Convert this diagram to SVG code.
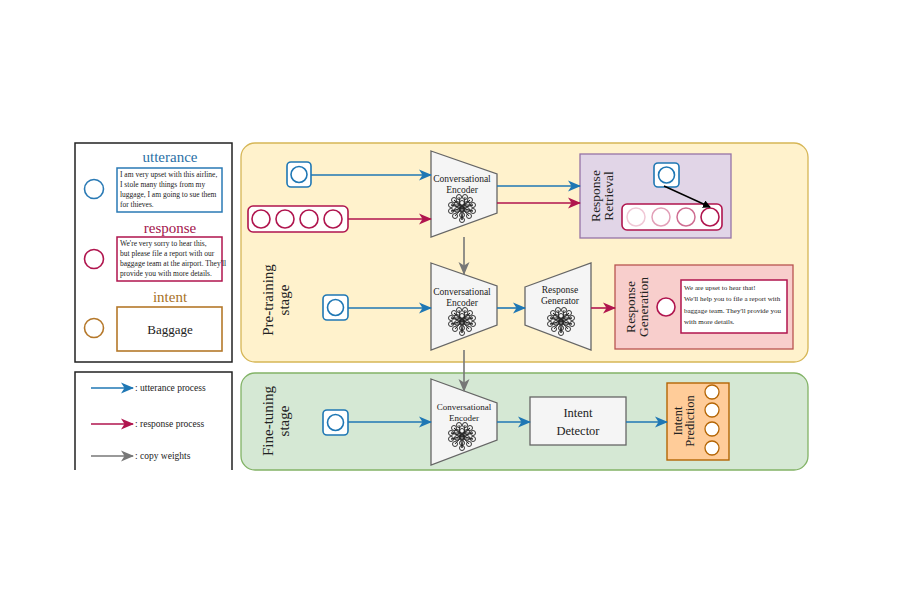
<svg xmlns="http://www.w3.org/2000/svg" xmlns:xlink="http://www.w3.org/1999/xlink" width="900" height="600" viewBox="0 0 900 600">
<style>
text{font-family:"Liberation Serif","Times New Roman",serif;fill:#222}
.b{stroke:#1f77b4;fill:none;stroke-width:1.6}
.r{stroke:#b0154e;fill:none;stroke-width:1.6}
.g{stroke:#777;fill:none;stroke-width:1.6}
.enc{fill:#f5f5f5;stroke:#666;stroke-width:1.3}
</style>
<defs>
<marker id="ab" markerWidth="13" markerHeight="12" refX="12" refY="6" orient="auto" markerUnits="userSpaceOnUse"><path d="M0,0.5 L13,6 L0,11.5 L3.5,6z" fill="#1f77b4"/></marker>
<marker id="ar" markerWidth="13" markerHeight="12" refX="12" refY="6" orient="auto" markerUnits="userSpaceOnUse"><path d="M0,0.5 L13,6 L0,11.5 L3.5,6z" fill="#b0154e"/></marker>
<marker id="ag" markerWidth="13" markerHeight="12" refX="12" refY="6" orient="auto" markerUnits="userSpaceOnUse"><path d="M0,0.5 L13,6 L0,11.5 L3.5,6z" fill="#777"/></marker>
<marker id="ak" markerWidth="8" markerHeight="8" refX="7" refY="4" orient="auto" markerUnits="userSpaceOnUse"><path d="M0,0 L8,4 L0,8z" fill="#000"/></marker>
<g id="nn">
<g fill="none" stroke="#222" stroke-width="0.9">
<circle cx="-8" cy="-6" r="2.5"/><circle cx="-3" cy="-9" r="2.5"/><circle cx="3" cy="-9" r="2.5"/><circle cx="8" cy="-6" r="2.5"/>
<circle cx="-11" cy="-1" r="2.5"/><circle cx="-5" cy="-2" r="2.5"/><circle cx="0" cy="-3" r="2.5"/><circle cx="5" cy="-2" r="2.5"/><circle cx="11" cy="-1" r="2.5"/>
<circle cx="-11" cy="5" r="2.5"/><circle cx="-5" cy="4" r="2.5"/><circle cx="0" cy="3" r="2.5"/><circle cx="5" cy="4" r="2.5"/><circle cx="11" cy="5" r="2.5"/>
<circle cx="-7" cy="10" r="2.5"/><circle cx="0" cy="9" r="2.5"/><circle cx="7" cy="10" r="2.5"/><circle cx="0" cy="14" r="2.5"/>
<path d="M-8,-6L5,4M8,-6L-5,4M-11,-1L11,5M11,-1L-11,5M-3,-9L0,14M3,-9L0,14M-7,10L8,-6M7,10L-8,-6M-11,-1H11M-11,5H11"/>
</g>
</g>
</defs>

<g id="legend">
<rect x="75" y="143" width="157" height="219" fill="#fff" stroke="#222" stroke-width="1.5"/>
<text x="170" y="162" font-size="15" style="fill:#2a6fa5" text-anchor="middle">utterance</text>
<circle cx="94" cy="189" r="9.5" class="b" style="stroke:#2a7ab5"/>
<rect x="117" y="168" width="105" height="44" fill="#fff" stroke="#2a7ab5" stroke-width="1.5"/>
<text font-size="7.5"><tspan x="120" y="177">I am very upset with this airline,</tspan><tspan x="120" y="187">I stole many things from my</tspan><tspan x="120" y="197">luggage, I am going to sue them</tspan><tspan x="120" y="207">for thieves.</tspan></text>
<text x="170" y="233" font-size="15" style="fill:#a3154c" text-anchor="middle">response</text>
<circle cx="94" cy="259" r="9.5" class="r"/>
<rect x="117" y="237" width="105" height="44" fill="#fff" stroke="#b0154e" stroke-width="1.5"/>
<text font-size="7.5"><tspan x="120" y="246">We're very sorry to hear this,</tspan><tspan x="120" y="256">but please file a report with our</tspan><tspan x="120" y="266">baggage team at the airport. They'll</tspan><tspan x="120" y="276">provide you with more details.</tspan></text>
<text x="170" y="302" font-size="15" style="fill:#a8711f" text-anchor="middle">intent</text>
<circle cx="94" cy="328" r="9.5" fill="none" stroke="#b5782a" stroke-width="1.6"/>
<rect x="117" y="307" width="105" height="44" fill="#fff" stroke="#b5782a" stroke-width="1.6"/>
<text x="170" y="334" font-size="13" text-anchor="middle">Baggage</text>
</g>

<g id="legend2">
<path d="M75,470 V372 H232 V470" fill="#fff" stroke="#222" stroke-width="1.5"/>
<line x1="91" y1="388" x2="133" y2="388" class="b" marker-end="url(#ab)"/>
<text x="135" y="391" font-size="9.5">: utterance process</text>
<line x1="91" y1="424" x2="133" y2="424" class="r" marker-end="url(#ar)"/>
<text x="135" y="427" font-size="9.5">: response process</text>
<line x1="91" y1="456" x2="133" y2="456" class="g" marker-end="url(#ag)"/>
<text x="135" y="459" font-size="9.5">: copy weights</text>
</g>

<g id="pretrain">
<rect x="241" y="143" width="567" height="219" rx="14" fill="#fff2cc" stroke="#d6b656" stroke-width="1.3"/>
<text transform="translate(273,300) rotate(-90)" font-size="15" text-anchor="middle"><tspan x="0" y="0">Pre-training</tspan><tspan x="0" y="16">stage</tspan></text>
</g>
<g id="finetune">
<rect x="241" y="373" width="567" height="97" rx="14" fill="#d5e8d4" stroke="#82b366" stroke-width="1.3"/>
<text transform="translate(273,421) rotate(-90)" font-size="15" text-anchor="middle"><tspan x="0" y="0">Fine-tuning</tspan><tspan x="0" y="16">stage</tspan></text>
</g>

<g id="inputs">
<rect x="287" y="162" width="24" height="25" rx="4" class="b" style="fill:#fff"/>
<circle cx="299" cy="174.5" r="8" class="b"/>
<rect x="248" y="206" width="100" height="26" rx="5" class="r" style="fill:#fff"/>
<circle cx="261" cy="219" r="9" class="r"/><circle cx="285" cy="219" r="9" class="r"/><circle cx="309" cy="219" r="9" class="r"/><circle cx="333" cy="219" r="9" class="r"/>
<rect x="323" y="295" width="25" height="25" rx="4" class="b" style="fill:#fff"/>
<circle cx="335.5" cy="307.5" r="8" class="b"/>
<rect x="323" y="410" width="25" height="25" rx="4" class="b" style="fill:#fff"/>
<circle cx="335.5" cy="422.5" r="8" class="b"/>
</g>

<g id="enc1">
<path d="M431,151 L497,174 L497,213 L431,237z" class="enc"/>
<text x="462" y="182" font-size="9.5" text-anchor="middle">Conversational</text>
<text x="462" y="193" font-size="9.5" text-anchor="middle">Encoder</text>
<use xlink:href="#nn" x="462" y="206"/>
</g>
<g id="enc2">
<path d="M431,263 L497,286 L497,325 L431,350z" class="enc"/>
<text x="462" y="295" font-size="9.5" text-anchor="middle">Conversational</text>
<text x="462" y="306" font-size="9.5" text-anchor="middle">Encoder</text>
<use xlink:href="#nn" x="462" y="319"/>
</g>
<g id="enc3">
<path d="M431,379 L497,403 L497,440 L431,465z" class="enc"/>
<text x="464" y="410" font-size="9" text-anchor="middle">Conversational</text>
<text x="464" y="421" font-size="9" text-anchor="middle">Encoder</text>
<use xlink:href="#nn" x="462" y="434"/>
</g>
<g id="generator">
<path d="M525,287 L591,263 L591,350 L525,325z" class="enc"/>
<text x="560" y="293" font-size="9.5" text-anchor="middle">Response</text>
<text x="560" y="304" font-size="9.5" text-anchor="middle">Generator</text>
<use xlink:href="#nn" x="561" y="319"/>
</g>

<g id="retrieval">
<rect x="580" y="154" width="151" height="84" fill="#e1d5e7" stroke="#9673a6" stroke-width="1.3"/>
<text transform="translate(600,196) rotate(-90)" font-size="13.5" text-anchor="middle"><tspan x="0" y="0">Response</tspan><tspan x="0" y="13">Retrieval</tspan></text>
<rect x="654" y="163" width="25" height="24" rx="4" class="b" style="fill:#fff"/>
<circle cx="666.5" cy="175" r="8" class="b"/>
<rect x="622" y="204" width="100" height="26" rx="5" class="r" style="fill:#fff"/>
<circle cx="636" cy="217" r="9" fill="#fff" stroke="#f0c8d6" stroke-width="1.5"/>
<circle cx="661" cy="217" r="9" fill="#fff" stroke="#e2a0b8" stroke-width="1.5"/>
<circle cx="686" cy="217" r="9" fill="#fff" stroke="#cf6e92" stroke-width="1.5"/>
<circle cx="710" cy="217" r="9" fill="#fff" stroke="#b0154e" stroke-width="1.6"/>
</g>

<g id="generation">
<rect x="615" y="265" width="178" height="84" fill="#f8cecc" stroke="#b85450" stroke-width="1.3"/>
<text transform="translate(635,307) rotate(-90)" font-size="13.5" text-anchor="middle"><tspan x="0" y="0">Response</tspan><tspan x="0" y="13">Generation</tspan></text>
<circle cx="666" cy="307" r="9" fill="#fff" stroke="#b0154e" stroke-width="1.6"/>
<rect x="681" y="280" width="106" height="53" fill="#fff" stroke="#b0154e" stroke-width="1.5"/>
<text font-size="7"><tspan x="684" y="290">We are upset to hear that!</tspan><tspan x="684" y="301">We'll help you to file a report with</tspan><tspan x="684" y="313">baggage team. They'll provide you</tspan><tspan x="684" y="324">with more details.</tspan></text>
</g>

<g id="detector">
<rect x="530" y="397" width="96" height="48" fill="#f5f5f5" stroke="#666" stroke-width="1.3"/>
<text x="578" y="417" font-size="12.5" text-anchor="middle">Intent</text>
<text x="578" y="435" font-size="12.5" text-anchor="middle">Detector</text>
</g>

<g id="prediction">
<rect x="667" y="383" width="62" height="77" fill="#ffcc99" stroke="#b46504" stroke-width="1.4"/>
<text transform="translate(682,421) rotate(-90)" font-size="12.5" text-anchor="middle"><tspan x="0" y="0">Intent</tspan><tspan x="0" y="12">Prediction</tspan></text>
<circle cx="712" cy="392" r="7" fill="#fff" stroke="#b46504" stroke-width="1.3"/>
<circle cx="712" cy="410" r="7" fill="#fff" stroke="#b46504" stroke-width="1.3"/>
<circle cx="712" cy="429" r="7" fill="#fff" stroke="#b46504" stroke-width="1.3"/>
<circle cx="712" cy="448" r="7" fill="#fff" stroke="#b46504" stroke-width="1.3"/>
</g>

<g id="connectors">
<line x1="311" y1="175" x2="431" y2="175" class="b" marker-end="url(#ab)"/>
<line x1="348" y1="219" x2="431" y2="219" class="r" marker-end="url(#ar)"/>
<line x1="497" y1="186" x2="580" y2="186" class="b" marker-end="url(#ab)"/>
<line x1="497" y1="203" x2="580" y2="203" class="r" marker-end="url(#ar)"/>
<line x1="664" y1="186" x2="710" y2="207" stroke="#000" stroke-width="1.4" marker-end="url(#ak)"/>
<line x1="464" y1="237" x2="464" y2="274" class="g" marker-end="url(#ag)"/>
<line x1="348" y1="308" x2="431" y2="308" class="b" marker-end="url(#ab)"/>
<line x1="497" y1="308" x2="525" y2="308" class="b" marker-end="url(#ab)"/>
<line x1="591" y1="308" x2="615" y2="308" class="r" marker-end="url(#ar)"/>
<line x1="464" y1="350" x2="464" y2="391" class="g" marker-end="url(#ag)"/>
<line x1="348" y1="422" x2="431" y2="422" class="b" marker-end="url(#ab)"/>
<line x1="497" y1="422" x2="530" y2="422" class="b" marker-end="url(#ab)"/>
<line x1="626" y1="422" x2="667" y2="422" class="b" marker-end="url(#ab)"/>
</g>
</svg>
